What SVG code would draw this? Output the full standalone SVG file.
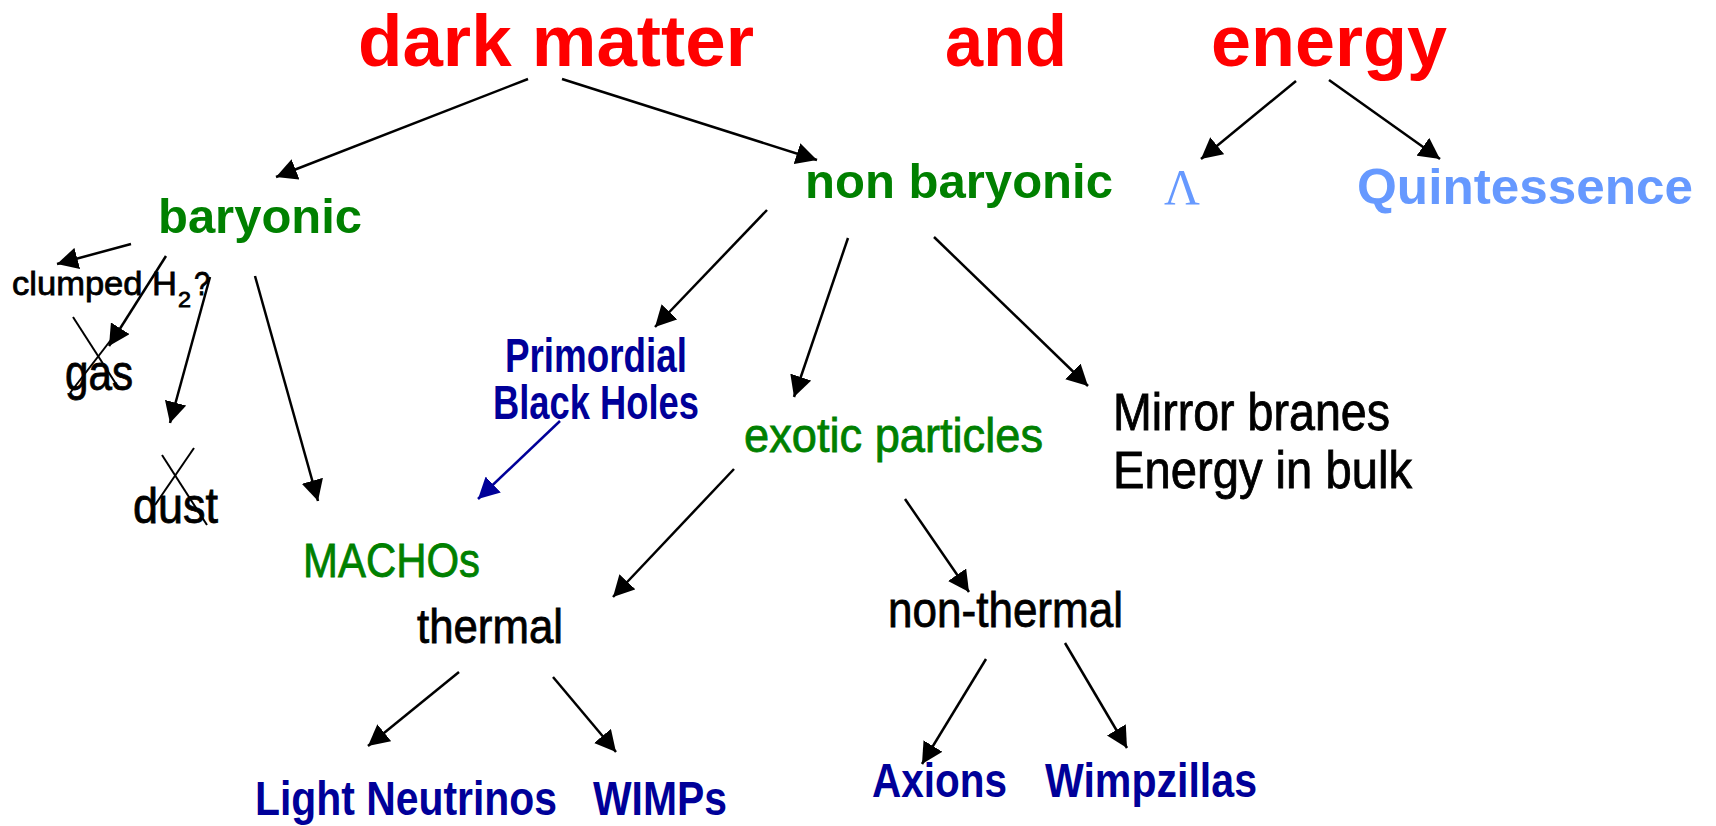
<svg xmlns="http://www.w3.org/2000/svg" width="1716" height="826" viewBox="0 0 1716 826">
<style>
text{font-family:"Liberation Sans",Arial,sans-serif}
.t{fill:#FF0000;font-weight:bold;font-size:73px}
.g{fill:#008000;stroke:#008000;stroke-width:0.8}
.gb{fill:#008000;font-weight:bold;font-size:49px}
.lb{fill:#6699FF}
.db{fill:#000099;font-weight:bold;font-size:49px}
.k{fill:#000000;stroke:#000;stroke-width:0.8}
.c{stroke:#000;stroke-width:2.5;fill:none}
.cb{stroke:#000099;stroke-width:2.5;fill:none}
.x{stroke:#000;stroke-width:2;fill:none}
</style>
<defs>
<marker id="ah" markerUnits="userSpaceOnUse" markerWidth="22" markerHeight="22" refX="21" refY="11" orient="auto" viewBox="0 0 22 22"><path d="M0,0 L21,11 L0,22 z" fill="#000"/></marker>
<marker id="ahb" markerUnits="userSpaceOnUse" markerWidth="22" markerHeight="22" refX="21" refY="11" orient="auto" viewBox="0 0 22 22"><path d="M0,0 L21,11 L0,22 z" fill="#000099"/></marker>
</defs>
<rect width="1716" height="826" fill="#fff"/>
<g id="connectors">
<line class="c" x1="528" y1="79" x2="276" y2="177" marker-end="url(#ah)"/>
<line class="c" x1="562" y1="79" x2="817" y2="160" marker-end="url(#ah)"/>
<line class="c" x1="1296" y1="81" x2="1201" y2="159" marker-end="url(#ah)"/>
<line class="c" x1="1329" y1="80" x2="1440" y2="159" marker-end="url(#ah)"/>
<line class="c" x1="131" y1="244" x2="57" y2="264" marker-end="url(#ah)"/>
<line class="c" x1="166" y1="256" x2="109" y2="346" marker-end="url(#ah)"/>
<line class="c" x1="210" y1="277" x2="170" y2="423" marker-end="url(#ah)"/>
<line class="c" x1="255" y1="276" x2="318" y2="501" marker-end="url(#ah)"/>
<line class="c" x1="767" y1="210" x2="655" y2="327" marker-end="url(#ah)"/>
<line class="c" x1="848" y1="238" x2="794" y2="397" marker-end="url(#ah)"/>
<line class="c" x1="934" y1="237" x2="1088" y2="386" marker-end="url(#ah)"/>
<line class="cb" x1="560" y1="421" x2="478" y2="499" marker-end="url(#ahb)"/>
<line class="c" x1="734" y1="469" x2="613" y2="597" marker-end="url(#ah)"/>
<line class="c" x1="905" y1="499" x2="969" y2="592" marker-end="url(#ah)"/>
<line class="c" x1="459" y1="672" x2="368" y2="746" marker-end="url(#ah)"/>
<line class="c" x1="553" y1="677" x2="616" y2="752" marker-end="url(#ah)"/>
<line class="c" x1="986" y1="659" x2="922" y2="764" marker-end="url(#ah)"/>
<line class="c" x1="1065" y1="643" x2="1127" y2="748" marker-end="url(#ah)"/>
</g>
<g id="title">
<text class="t" x="358" y="66" textLength="396" lengthAdjust="spacingAndGlyphs">dark matter</text>
<text class="t" x="945" y="66" textLength="122" lengthAdjust="spacingAndGlyphs">and</text>
<text class="t" x="1211" y="66" textLength="236" lengthAdjust="spacingAndGlyphs">energy</text>
</g>
<g id="baryonic"><text class="gb" x="158" y="233" font-size="50" textLength="204" lengthAdjust="spacingAndGlyphs">baryonic</text></g>
<g id="non-baryonic"><text class="gb" x="805" y="198" textLength="308" lengthAdjust="spacingAndGlyphs">non baryonic</text></g>
<g id="lambda"><text class="lb" x="1164" y="204" font-size="50" style="font-family:'Liberation Serif','Times New Roman',serif" textLength="36" lengthAdjust="spacingAndGlyphs">Λ</text></g>
<g id="quintessence"><text class="lb" x="1357" y="204" font-size="50" font-weight="bold" textLength="336" lengthAdjust="spacingAndGlyphs">Quintessence</text></g>
<g id="clumped-h2">
<text class="k" x="12" y="295" font-size="34" textLength="165" lengthAdjust="spacingAndGlyphs">clumped H</text>
<text class="k" x="178" y="307" font-size="22" textLength="13" lengthAdjust="spacingAndGlyphs">2</text>
<text class="k" x="194" y="295" font-size="34" textLength="16" lengthAdjust="spacingAndGlyphs">?</text>
</g>
<g id="gas">
<text class="k" x="65" y="390" font-size="50" textLength="68" lengthAdjust="spacingAndGlyphs">gas</text>
<line class="x" x1="73" y1="317" x2="118" y2="387"/>
<line class="x" x1="117" y1="332" x2="70" y2="393"/>
</g>
<g id="dust">
<text class="k" x="133" y="523" font-size="50" textLength="85" lengthAdjust="spacingAndGlyphs">dust</text>
<line class="x" x1="162" y1="455" x2="207" y2="525"/>
<line class="x" x1="194" y1="448" x2="155" y2="505"/>
</g>
<g id="machos"><text class="g" x="303" y="577" font-size="49" textLength="177" lengthAdjust="spacingAndGlyphs">MACHOs</text></g>
<g id="primordial-black-holes">
<text class="db" x="505" y="372" font-size="42" textLength="182" lengthAdjust="spacingAndGlyphs">Primordial</text>
<text class="db" x="493" y="419" font-size="42" textLength="206" lengthAdjust="spacingAndGlyphs">Black Holes</text>
</g>
<g id="exotic-particles"><text class="g" x="744" y="452" font-size="48" textLength="299" lengthAdjust="spacingAndGlyphs">exotic particles</text></g>
<g id="mirror-branes">
<text class="k" x="1113" y="430" font-size="51" textLength="277" lengthAdjust="spacingAndGlyphs">Mirror branes</text>
<text class="k" x="1113" y="488" font-size="51" textLength="299" lengthAdjust="spacingAndGlyphs">Energy in bulk</text>
</g>
<g id="thermal"><text class="k" x="417" y="643" font-size="49" textLength="146" lengthAdjust="spacingAndGlyphs">thermal</text></g>
<g id="non-thermal"><text class="k" x="888" y="627" font-size="50" textLength="235" lengthAdjust="spacingAndGlyphs">non-thermal</text></g>
<g id="light-neutrinos"><text class="db" transform="translate(255,815) scale(0.834,1)" x="0" y="0">Light Neutrinos</text></g>
<g id="wimps"><text class="db" x="593" y="815" textLength="134" lengthAdjust="spacingAndGlyphs">WIMPs</text></g>
<g id="axions"><text class="db" x="872" y="797" textLength="135" lengthAdjust="spacingAndGlyphs">Axions</text></g>
<g id="wimpzillas"><text class="db" x="1045" y="797" textLength="212" lengthAdjust="spacingAndGlyphs">Wimpzillas</text></g>
</svg>
